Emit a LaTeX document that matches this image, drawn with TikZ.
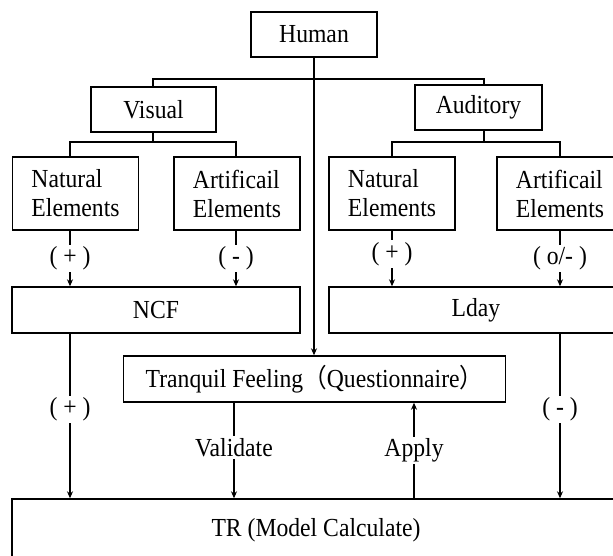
\documentclass[tikz,border=0pt]{standalone}
\usepackage{fontspec}
\setmainfont{Liberation Serif}[FakeStretch=0.91]
\newfontfamily\cjk{Noto Sans CJK SC}[FakeStretch=0.91]
\usetikzlibrary{arrows.meta}
\begin{document}
\begin{tikzpicture}[x=1pt,y=-1pt,
  font=\fontsize{26}{29}\selectfont,
  box/.style={draw,line width=1.4pt,inner sep=0pt,align=center},
  twoline/.style={box,align=left,minimum width=126pt,minimum height=73pt},
  ln/.style={line width=1.4pt},
  arr/.style={line width=1.4pt,-{Stealth[length=7pt,width=6pt]}},
  lab/.style={fill=white,inner sep=2pt}]
\useasboundingbox (0,0) rectangle (613,555);
% nodes
\node[box,minimum width=126pt,minimum height=45pt] (human) at (314,34.5) {Human};
\node[box,minimum width=125pt,minimum height=45pt] (vis) at (153.5,109.5) {Visual};
\node[box,minimum width=127pt,minimum height=45pt] (aud) at (478.5,107.5) {Auditory};
\node[twoline] (nat1) at (75.5,193.5) {Natural\\Elements};
\node[twoline] (art1) at (237,193.5) {Artificail\\Elements};
\node[twoline] (nat2) at (392,193.5) {Natural\\Elements};
\node[twoline] (art2) at (560,193.5) {Artificail\\Elements};
\node[box,minimum width=288pt,minimum height=46pt] (ncf) at (156,310) {NCF};
\node[box,minimum width=294pt,minimum height=46pt] (lday) at (476,310) {Lday};
\node[box,minimum width=382pt,minimum height=46pt] (tranq) at (314.5,379) {Tranquil Feeling{\cjk （}Questionnaire{\cjk ）}};
\node[box,minimum width=608pt,minimum height=62pt] (tr) at (316,530) {TR (Model Calculate)};
% junction coordinates
\coordinate (j1) at (153,79);
\coordinate (j2) at (484,79);
\coordinate (v1) at (70,142);
\coordinate (v2) at (236,142);
\coordinate (a1) at (392,142);
\coordinate (a2) at (560,142);
\coordinate (vx) at (234,0);
\coordinate (ax) at (414,0);
% tree lines
\draw[ln] (j1 |- vis.north) -- (j1) -- (j2) -- (j2 |- aud.north);
\draw[ln] (j1 |- vis.south) -- (j1 |- v1);
\draw[ln] (v1 |- nat1.north) -- (v1) -- (v2) -- (v2 |- art1.north);
\draw[ln] (j2 |- aud.south) -- (j2 |- a1);
\draw[ln] (a1 |- nat2.north) -- (a1) -- (a2) -- (a2 |- art2.north);
\draw[arr] (human.south) -- (human.south |- tranq.north);
% element arrows
\draw[arr] (v1 |- nat1.south) -- (v1 |- ncf.north) node[lab,midway] {( + )};
\draw[arr] (v2 |- art1.south) -- (v2 |- ncf.north) node[lab,midway] {( - )};
\draw[arr] (a1 |- nat2.south) -- (a1 |- lday.north) node[lab,pos=0.42] {( + )};
\draw[arr] (a2 |- art2.south) -- (a2 |- lday.north) node[lab,midway] {( o/- )};
% to TR
\draw[arr] (v1 |- ncf.south) -- (v1 |- tr.north) node[lab,pos=0.46] {( + )};
\draw[arr] (a2 |- lday.south) -- (a2 |- tr.north) node[lab,pos=0.46] {( - )};
\draw[arr] (vx |- tranq.south) -- (vx |- tr.north) node[lab,pos=0.47] {Validate};
\draw[arr] (ax |- tr.north) -- (ax |- tranq.south) node[lab,pos=0.5] {Apply};
\end{tikzpicture}
\end{document}
